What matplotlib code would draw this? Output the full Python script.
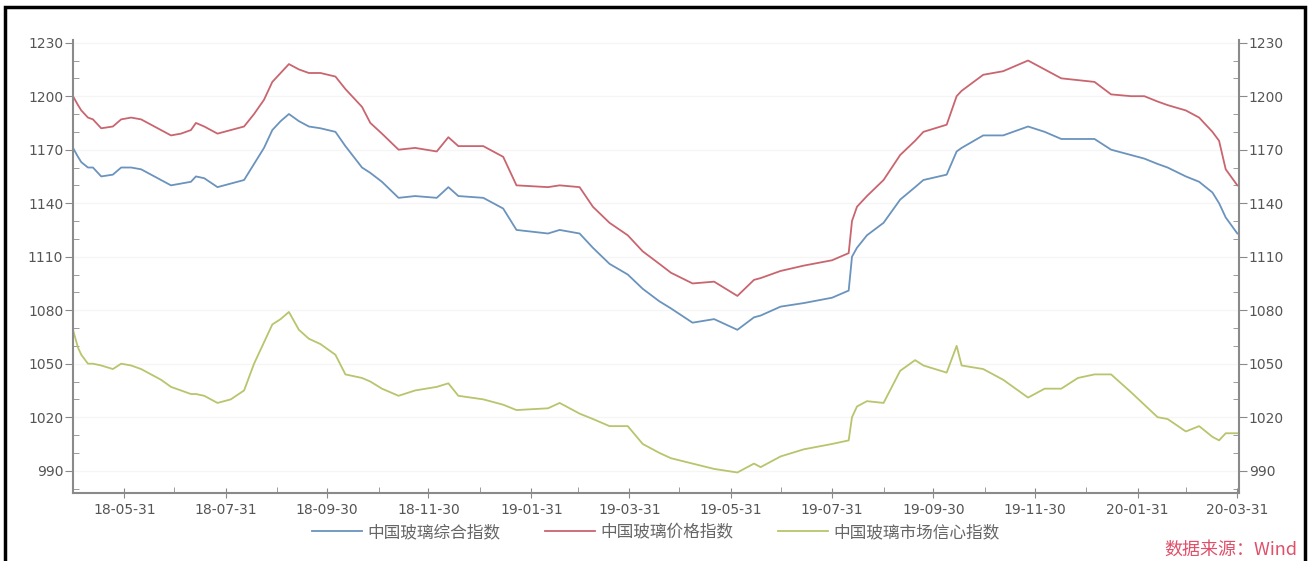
import matplotlib
matplotlib.use("Agg")
import matplotlib.pyplot as plt
import matplotlib.dates as mdates
from matplotlib.patches import Rectangle
import pandas as pd

plt.rcParams['font.family'] = ['DejaVu Sans', 'Noto Sans CJK SC']

# 数据
fechas = ['2018-04-30', '2018-05-03', '2018-05-05', '2018-05-09', '2018-05-12', '2018-05-17',
          '2018-05-24', '2018-05-29', '2018-06-04', '2018-06-10', '2018-06-16', '2018-06-22',
          '2018-06-28', '2018-07-04', '2018-07-10', '2018-07-13', '2018-07-18', '2018-07-26',
          '2018-08-03', '2018-08-11', '2018-08-17', '2018-08-23', '2018-08-28', '2018-09-02',
          '2018-09-07', '2018-09-13', '2018-09-19', '2018-09-26', '2018-10-05', '2018-10-11',
          '2018-10-21', '2018-10-26', '2018-11-02', '2018-11-12', '2018-11-22', '2018-12-05',
          '2018-12-12', '2018-12-18', '2019-01-02', '2019-01-14', '2019-01-22', '2019-02-10',
          '2019-02-17', '2019-03-01', '2019-03-09', '2019-03-19', '2019-03-30', '2019-04-08',
          '2019-04-18', '2019-04-25', '2019-05-08', '2019-05-21', '2019-06-04', '2019-06-14',
          '2019-06-18', '2019-06-30', '2019-07-14', '2019-07-31', '2019-08-10', '2019-08-12',
          '2019-08-15', '2019-08-21', '2019-08-31', '2019-09-10', '2019-09-19', '2019-09-24',
          '2019-10-08', '2019-10-14', '2019-10-17', '2019-10-30', '2019-11-11', '2019-11-26',
          '2019-12-06', '2019-12-16', '2019-12-26', '2020-01-05', '2020-01-15', '2020-01-27',
          '2020-02-04', '2020-02-12', '2020-02-18', '2020-02-29', '2020-03-08', '2020-03-16',
          '2020-03-20', '2020-03-24', '2020-03-31']

zonghe = [1171, 1166, 1163, 1160, 1160, 1155, 1156, 1160, 1160, 1159, 1156, 1153,
          1150, 1151, 1152, 1155, 1154, 1149, 1151, 1153, 1162, 1171, 1181, 1186,
          1190, 1186, 1183, 1182, 1180, 1172, 1160, 1157, 1152, 1143, 1144, 1143,
          1149, 1144, 1143, 1137, 1125, 1123, 1125, 1123, 1115, 1106, 1100, 1092,
          1085, 1081, 1073, 1075, 1069, 1076, 1077, 1082, 1084, 1087, 1091, 1110,
          1115, 1122, 1129, 1142, 1149, 1153, 1156, 1169, 1171, 1178, 1178, 1183,
          1180, 1176, 1176, 1176, 1170, 1167, 1165, 1162, 1160, 1155, 1152, 1146,
          1140, 1132, 1123]

jiage = [1200, 1195, 1192, 1188, 1187, 1182, 1183, 1187, 1188, 1187, 1184, 1181,
         1178, 1179, 1181, 1185, 1183, 1179, 1181, 1183, 1190, 1198, 1208, 1213,
         1218, 1215, 1213, 1213, 1211, 1204, 1194, 1185, 1179, 1170, 1171, 1169,
         1177, 1172, 1172, 1166, 1150, 1149, 1150, 1149, 1138, 1129, 1122, 1113,
         1106, 1101, 1095, 1096, 1088, 1097, 1098, 1102, 1105, 1108, 1112, 1130,
         1138, 1144, 1153, 1167, 1175, 1180, 1184, 1200, 1203, 1212, 1214, 1220,
         1215, 1210, 1209, 1208, 1201, 1200, 1200, 1197, 1195, 1192, 1188, 1180,
         1175, 1159, 1150]

xinxin = [1069, 1059, 1055, 1050, 1050, 1049, 1047, 1050, 1049, 1047, 1044, 1041,
          1037, 1035, 1033, 1033, 1032, 1028, 1030, 1035, 1050, 1062, 1072, 1075,
          1079, 1069, 1064, 1061, 1055, 1044, 1042, 1040, 1036, 1032, 1035, 1037,
          1039, 1032, 1030, 1027, 1024, 1025, 1028, 1022, 1019, 1015, 1015, 1005,
          1000, 997, 994, 991, 989, 994, 992, 998, 1002, 1005, 1007, 1020,
          1026, 1029, 1028, 1046, 1052, 1049, 1045, 1060, 1049, 1047, 1041, 1031,
          1036, 1036, 1042, 1044, 1044, 1034, 1027, 1020, 1019, 1012, 1015, 1009,
          1007, 1011, 1011]

nombres = ['中国玻璃综合指数', '中国玻璃价格指数', '中国玻璃市场信心指数']
colores = ['#6a93bd', '#c9656f', '#b9c46c']

fechas = pd.to_datetime(fechas)

fig = plt.figure(figsize=(13.11, 5.61), dpi=100)
ax = fig.add_axes([73/1311, 1-493/561, (1239-73)/1311, (493-40)/561])

for serie, nombre, c in zip([zonghe, jiage, xinxin], nombres, colores):
    ax.plot(fechas, serie, color=c, lw=1.3, label=nombre)

ax.set_ylim(977.5, 1231.5)
ax.set_xlim(pd.Timestamp('2018-04-30'), pd.Timestamp('2020-04-01'))
ax.set_yticks(range(990, 1231, 30))
ax.set_yticks(range(980, 1231, 10), minor=True)
for y in range(990, 1231, 30):
    ax.axhline(y, color='#f5f5f5', lw=1, zorder=0)

meses = pd.date_range('2018-05-31', '2020-03-31', freq='ME')
ax.set_xticks(meses[::2])
ax.set_xticks(meses[1::2], minor=True)
ax.xaxis.set_major_formatter(mdates.DateFormatter('%y-%m-%d'))

ax.spines['top'].set_visible(False)
for s in ['left', 'right', 'bottom']:
    ax.spines[s].set_color('#8a8a8a')
    ax.spines[s].set_linewidth(1.5)

ax.tick_params(axis='y', which='major', direction='out', length=6, color='#8a8a8a',
               left=True, right=True, labelleft=True, labelright=True,
               labelsize=10, labelcolor='#555555', pad=1)
ax.tick_params(axis='y', which='minor', direction='in', length=4, color='#8a8a8a',
               left=True, right=True)
ax.tick_params(axis='x', which='major', direction='inout', length=7, color='#8a8a8a',
               labelsize=10, labelcolor='#555555', pad=4)
ax.tick_params(axis='x', which='minor', direction='in', length=4, color='#8a8a8a')

ax.legend(loc='upper center', bbox_to_anchor=(0.5, -0.035), ncol=3, frameon=False,
          prop={'family': ['Noto Sans CJK SC', 'DejaVu Sans'], 'size': 12},
          labelcolor='#666666', handlelength=3, handletextpad=0.3, columnspacing=2.7)

fig.text(1297/1311, 1-550/561, '数据来源：Wind', color='#e0506a', fontsize=13,
         style='italic', ha='right', va='center',
         family=['Noto Sans CJK SC', 'DejaVu Sans'])

# marco negro
fig.patches.append(Rectangle((5/1311, -0.05), 1300/1311, 1.05 - 7/561, transform=fig.transFigure,
                             fill=False, edgecolor='black', lw=2.5))

fig.savefig('out.png', dpi=100)
